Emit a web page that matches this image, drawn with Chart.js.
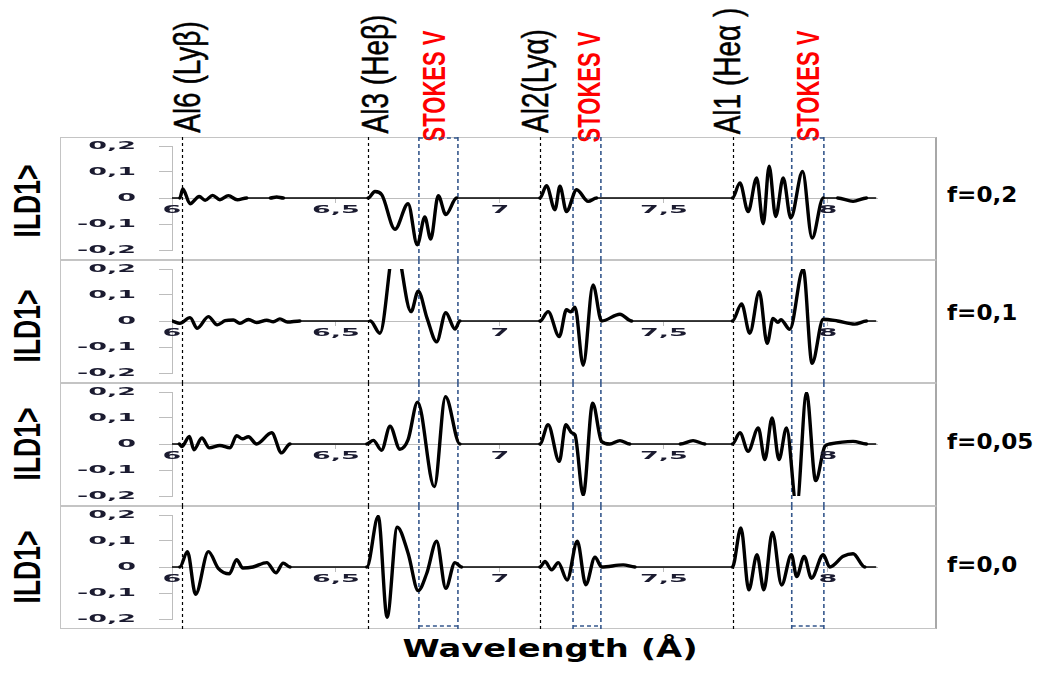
<!DOCTYPE html>
<html lang="en">
<head>
<meta charset="UTF-8">
<meta name="viewport" content="width=device-width, initial-scale=1.0">
<title>ILD1 - Stokes V</title>
<script src="https://cdn.jsdelivr.net/npm/chart.js"></script>
<style>
  body { margin: 0; background: #fff; }
  #page { position: relative; width: 1043px; height: 673px; overflow: hidden; }
  .frame { position: absolute; left: 60px; width: 877px; height: 123px; box-sizing: border-box;
           border: 1px solid #c4c4c4; border-right: 2px solid #a8a8a8; }
  canvas.plot { position: absolute; left: 0; }
  /* rotated labels, placed by their centre; the source picture is stretched sideways */
  .vt { position: absolute; writing-mode: vertical-rl; white-space: nowrap; line-height: 32px;
        font-family: 'Liberation Sans', Arial, sans-serif; font-size: 28px; color: #000;
        -webkit-text-stroke: 0.4px #000;
        transform: translate(-50%, -50%) scaleX(1.35) rotate(180deg); }
  .vt.stokes { color: #ff0000; font-weight: bold; font-size: 22px; line-height: 24px; -webkit-text-stroke: 0;
               transform: translate(-50%, -50%) scaleX(1.45) rotate(180deg); }
  .vt.ild { font-weight: bold; font-size: 26.5px; line-height: 30px; -webkit-text-stroke: 0;
            transform: translate(-50%, -50%) scaleX(1.42) rotate(180deg); }
  .flab { position: absolute; left: 947px; font: bold 21px 'DejaVu Sans', sans-serif; line-height: 26px;
          transform-origin: 0 50%; transform: scaleX(1.1); }
  #xtitle { position: absolute; left: 550px; top: 634px; font: bold 25px 'DejaVu Sans', sans-serif;
            line-height: 30px; white-space: nowrap; transform: translateX(-50%) scaleX(1.35); }
</style>
</head>
<body>
<div id="page">
  <div class="vt" style="left:188px; top:77px;">Al6 (Lyβ)</div>
  <div class="vt" style="left:376px; top:74px;">Al3 (Heβ)</div>
  <div class="vt stokes" style="left:435px; top:86px;">STOKES V</div>
  <div class="vt" style="left:536px; top:81px;">Al2(Lyα)</div>
  <div class="vt stokes" style="left:590px; top:87px;">STOKES V</div>
  <div class="vt" style="left:728px; top:71px;">Al1 (Heα )</div>
  <div class="vt stokes" style="left:809px; top:86px;">STOKES V</div>

  <div class="vt ild" style="left:27px; top:201px;">ILD1&gt;</div>
  <div class="vt ild" style="left:27px; top:326px;">ILD1&gt;</div>
  <div class="vt ild" style="left:27px; top:444px;">ILD1&gt;</div>
  <div class="vt ild" style="left:27px; top:567px;">ILD1&gt;</div>

  <div class="flab" style="top:182px;">f=0,2</div>
  <div class="flab" style="top:300px;">f=0,1</div>
  <div class="flab" style="top:429px;">f=0,05</div>
  <div class="flab" style="top:552px;">f=0,0</div>

  <div id="xtitle">Wavelength (Å)</div>
</div>

<script>
  // wavelength (Å) / ILD1 readings for each panel
  const wlF02 = [6.0, 6.024, 6.033, 6.055, 6.083, 6.101, 6.124, 6.146, 6.172, 6.199, 6.228, 6.3, 6.319, 6.34,
    6.598, 6.619, 6.64, 6.68, 6.72, 6.748, 6.771, 6.789, 6.812, 6.835, 6.868,
    7.122, 7.142, 7.168, 7.183, 7.203, 7.234, 7.269, 7.295,
    7.709, 7.732, 7.757, 7.783, 7.803, 7.821, 7.841, 7.864, 7.887, 7.923, 7.952, 7.986, 8.03, 8.077, 8.118, 8.146];
  const ildF02 = [0, 0, 0.035, -0.022, 0.006, -0.009, 0.010, -0.007, 0.009, -0.007, 0, 0, 0.004, 0,
    0, 0.025, 0.012, -0.12, -0.022, -0.18, -0.073, -0.158, 0.009, -0.064, 0,
    0, 0.047, -0.045, 0.045, -0.052, 0.032, -0.013, 0,
    0, 0.058, -0.052, 0.077, -0.099, 0.122, -0.071, 0.077, -0.077, 0.102, -0.154, 0, 0, -0.013, 0, 0];

  const wlF01 = [6.0, 6.024, 6.055, 6.077, 6.111, 6.138, 6.162, 6.187, 6.207, 6.233, 6.258, 6.289, 6.309, 6.329, 6.352, 6.39,
    6.598, 6.605, 6.634, 6.68, 6.729, 6.751, 6.778, 6.807, 6.835, 6.863, 6.878,
    7.122, 7.147, 7.181, 7.203, 7.216, 7.229, 7.254, 7.284, 7.31, 7.366, 7.402,
    7.709, 7.737, 7.762, 7.791, 7.815, 7.833, 7.848, 7.857, 7.884, 7.925, 7.952, 7.986, 8.03, 8.082, 8.118, 8.146];
  const ildF01 = [0, -0.009, 0.013, -0.028, 0.017, -0.015, 0.001, 0.004, -0.009, 0.006, -0.006, 0.003, -0.003, 0.008, -0.004, 0,
    0, 0, -0.047, 0.3, 0.036, 0.115, 0.01, -0.08, 0.032, -0.031, 0,
    0, 0.036, -0.06, 0.043, 0.035, 0.053, -0.17, 0.139, 0, 0.026, 0,
    0, 0.066, -0.047, 0.113, -0.086, 0.01, -0.005, 0.005, -0.032, 0.199, -0.163, 0.007, 0, -0.012, 0, 0];

  const wlF005 = [6.0, 6.022, 6.03, 6.053, 6.067, 6.091, 6.114, 6.146, 6.177, 6.197, 6.215, 6.233, 6.258, 6.304, 6.334, 6.36,
    6.594, 6.614, 6.639, 6.665, 6.695, 6.72, 6.749, 6.8, 6.834, 6.878,
    7.122, 7.147, 7.181, 7.201, 7.219, 7.229, 7.254, 7.283, 7.31, 7.335, 7.366, 7.396,
    7.55, 7.589, 7.625,
    7.709, 7.732, 7.757, 7.788, 7.808, 7.83, 7.851, 7.874, 7.905, 7.935, 7.963, 7.991, 8.006, 8.077, 8.118, 8.146];
  const ildF005 = [0, 0, -0.01, 0.029, -0.022, 0.023, -0.015, -0.006, -0.015, 0.032, 0.02, 0.028, 0, 0.043, -0.034, 0,
    0, 0.014, -0.024, 0.068, -0.02, 0.017, 0.161, -0.164, 0.182, 0,
    0, 0.074, -0.067, 0.074, 0.043, 0.035, -0.196, 0.157, 0.01, 0, 0.013, 0,
    0, 0.013, 0,
    0, 0.043, -0.028, 0.062, -0.06, 0.10, -0.06, 0.062, -0.24, 0.196, -0.141, -0.009, 0, 0.01, 0, 0];

  const wlF00 = [6.0, 6.024, 6.047, 6.072, 6.111, 6.141, 6.175, 6.197, 6.216, 6.247, 6.289, 6.317, 6.339, 6.36,
    6.594, 6.629, 6.656, 6.687, 6.72, 6.751, 6.777, 6.807, 6.835, 6.863, 6.883,
    7.122, 7.137, 7.158, 7.178, 7.205, 7.236, 7.262, 7.29, 7.31, 7.376, 7.412,
    7.709, 7.735, 7.759, 7.784, 7.805, 7.831, 7.859, 7.889, 7.905, 7.928, 7.95, 7.986, 8.006, 8.047, 8.077, 8.113, 8.146];
  const ildF00 = [0, 0, 0.059, -0.105, 0.059, -0.005, -0.026, 0.028, -0.004, 0, 0.017, -0.022, 0.015, 0,
    0, 0.195, -0.193, 0.153, 0.053, -0.091, -0.024, 0.099, -0.082, 0.017, 0,
    0, 0.021, -0.011, 0.017, -0.05, 0.099, -0.068, 0.038, 0, 0.008, 0,
    0, 0.15, -0.088, 0.047, -0.088, 0.133, -0.069, 0.047, -0.037, 0.041, -0.043, 0.047, 0, 0.041, 0.051, 0, 0];

  const xTicks = [6, 6.5, 7, 7.5, 8];
  const yTicks = [0.2, 0.1, 0, -0.1, -0.2];
  // line positions (Al6, Al3, Al2, Al1) and Stokes V windows
  const lineWl = [6.03, 6.598, 7.122, 7.71];
  const stokesWl = [[6.753, 6.872], [7.223, 7.308], [7.89, 7.988]];

  const panels = [
    { wl: wlF02, ild: ildF02 },
    { wl: wlF01, ild: ildF01 },
    { wl: wlF005, ild: ildF005 },
    { wl: wlF00, ild: ildF00 }
  ];
  const tops = [137, 260, 383, 506];

  const fmt = v => String(v).replace('.', ',');

  // dashed ion lines + Stokes V boxes, under the curves
  const guides = {
    id: 'guides',
    beforeDatasetsDraw(chart, args, opts) {
      const { ctx, scales: { x }, height } = chart;
      ctx.save();
      ctx.setLineDash([3, 3]);
      ctx.strokeStyle = '#000';
      ctx.lineWidth = 1.2;
      lineWl.forEach(w => {
        const px = Math.round(x.getPixelForValue(w)) + 0.5;
        ctx.beginPath();
        ctx.moveTo(px, 0);
        ctx.lineTo(px, height);
        ctx.stroke();
      });
      ctx.setLineDash([4, 3]);
      ctx.strokeStyle = '#35578c';
      ctx.lineWidth = 1.6;
      stokesWl.forEach(([a, b]) => {
        const l = x.getPixelForValue(a), r = x.getPixelForValue(b);
        ctx.beginPath();
        ctx.moveTo(l, 0); ctx.lineTo(l, height);
        ctx.moveTo(r, 0); ctx.lineTo(r, height);
        if (opts.top) { ctx.moveTo(l, 1); ctx.lineTo(r, 1); }
        if (opts.bottom) { ctx.moveTo(l, height - 3); ctx.lineTo(r, height - 3); }
        ctx.stroke();
      });
      ctx.restore();
    }
  };

  // the old Excel tick labels are very wide, so stretch them
  const wideTicks = {
    id: 'wideTicks',
    afterDraw(chart) {
      const { ctx, scales: { x, y } } = chart;
      ctx.save();
      ctx.font = 'bold 10px "DejaVu Sans"';
      ctx.fillStyle = '#1b1b30';
      ctx.textBaseline = 'middle';
      ctx.textAlign = 'right';
      yTicks.forEach(v => {
        ctx.save();
        ctx.translate(y.right - 36, y.getPixelForValue(v));
        ctx.scale(2.7, 1);
        ctx.fillText(fmt(v), 0, 0);
        ctx.restore();
      });
      ctx.textAlign = 'center';
      const y0 = y.getPixelForValue(0);
      xTicks.forEach(v => {
        ctx.save();
        ctx.translate(x.getPixelForValue(v), y0 + 12);
        ctx.scale(2.7, 1);
        ctx.fillText(fmt(v), 0, 0);
        ctx.restore();
      });
      ctx.restore();
    }
  };

  function makeChart(canvas, p, i) {
    return new Chart(canvas, {
      type: 'line',
      data: {
        datasets: [{
          data: p.wl.map((w, k) => ({ x: w, y: p.ild[k] })),
          borderColor: '#000',
          borderWidth: 3.4,
          pointRadius: 0,
          cubicInterpolationMode: 'monotone',
          borderJoinStyle: 'round',
          borderCapStyle: 'round',
          fill: false,
          // flat stretches look thinner in the original
          segment: {
            borderWidth: c => (c.p0.parsed.y === 0 && c.p1.parsed.y === 0) ? 1.4 : 3.4
          }
        }]
      },
      options: {
        responsive: false,
        animation: false,
        events: [],
        layout: { padding: { left: 0, right: 166, top: 9, bottom: 10 } },
        plugins: {
          legend: { display: false },
          tooltip: { enabled: false },
          guides: { top: i === 0, bottom: i === 3 }
        },
        scales: {
          x: {
            type: 'linear',
            min: 6,
            max: 8.15,
            position: { y: 0 },
            afterBuildTicks: s => { s.ticks = xTicks.map(v => ({ value: v })); },
            grid: { drawOnChartArea: false, tickLength: 4, color: '#bdbdbd' },
            border: { color: '#bdbdbd', width: 1 },
            ticks: { display: false }
          },
          y: {
            min: -0.2,
            max: 0.2,
            afterBuildTicks: s => { s.ticks = yTicks.map(v => ({ value: v })); },
            afterFit: s => { s.width = 172; },
            grid: { drawOnChartArea: false, tickLength: 13, color: '#bdbdbd' },
            border: { color: '#bdbdbd', width: 1 },
            ticks: { display: false }
          }
        }
      },
      plugins: [guides, wideTicks]
    });
  }

  const page = document.getElementById('page');
  panels.forEach((p, i) => {
    const frame = document.createElement('div');
    frame.className = 'frame';
    frame.style.top = tops[i] + 'px';
    page.insertBefore(frame, page.firstChild);

    const cv = document.createElement('canvas');
    cv.className = 'plot';
    cv.width = 1043;
    cv.height = 123;
    cv.style.top = tops[i] + 'px';
    page.appendChild(cv);
    makeChart(cv, p, i);
  });
</script>
</body>
</html>
